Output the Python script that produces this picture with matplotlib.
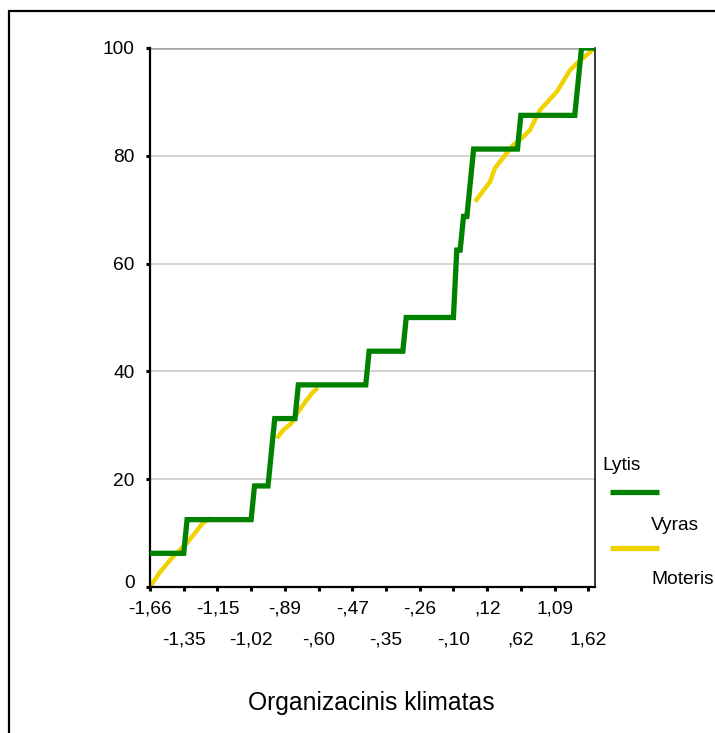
import numpy as np
import matplotlib
matplotlib.use("Agg")
import matplotlib.pyplot as plt
import matplotlib.transforms as mtransforms
from matplotlib.lines import Line2D
from matplotlib.patches import Rectangle

plt.rcParams['font.family'] = ['Liberation Sans', 'DejaVu Sans']

# ---- data ----
x_tick_labels = ['-1,66', '-1,35', '-1,15', '-1,02', '-,89', '-,60', '-,47',
                 '-,35', '-,26', '-,10', ',12', ',62', '1,09', '1,62']
n_categories = 133          # category index 0 .. 132
tick_every = 10

# cumulative percent, men (Vyras): category index / cumulative %
male_idx = [0, 10, 11, 30, 31, 35, 37, 43, 44, 64, 65, 75, 76, 90, 91, 92, 93,
            94, 96, 109, 110, 126, 128, 132]
male_cum = [6.25, 6.25, 12.5, 12.5, 18.75, 18.75, 31.25, 31.25, 37.5, 37.5,
            43.75, 43.75, 50, 50, 62.5, 62.5, 68.75, 68.75, 81.25, 81.25,
            87.5, 87.5, 100, 100]

# cumulative percent, women (Moteris) - visible parts only
nan = np.nan
female_idx = [0, 3.0, 6.8, 11, 12.8, 15.7, 18, nan, 37.6, 39.5, 42.0, 43.9,
              46.5, 48.4, 49.8, nan, 96.4, 100.9, 102.3, 104.7, 107.7, 110.4,
              112.7, 115.7, 120.7, 124.6, 126.7, 132]
female_cum = [0, 2.8, 5.6, 8.2, 9.6, 11.9, 12.8, nan, 27.6, 29.1, 30.4, 32.5,
              34.7, 36.2, 36.9, nan, 71.5, 75.2, 77.7, 79.6, 82, 83.3, 84.8,
              88.5, 91.9, 95.9, 97.2, 100]

y_ticks = [0, 20, 40, 60, 80, 100]
legend_title = 'Lytis'
series_names = ['Vyras', 'Moteris']
x_label = 'Organizacinis klimatas'

GREEN = '#008200'
YELLOW = '#f0d200'
FS = 13.8

# ---- figure ----
W, H = 715, 733
fig = plt.figure(figsize=(W / 100, H / 100), dpi=100)
ax = fig.add_axes([150 / W, 1 - 587 / H, 445 / W, (587 - 48) / H])

ax.set_xlim(0, n_categories - 1)
ax.set_ylim(0, 100)

for yv in y_ticks[1:-1]:
    ax.axhline(yv, color='#cbcbcb', lw=1.2, zorder=0)
ax.axhline(100, color='#a5a5a5', lw=1.8, zorder=0)

ax.plot(female_idx, female_cum, color=YELLOW, lw=3.2, zorder=2,
        solid_capstyle='butt', solid_joinstyle='round')
ax.plot(male_idx, male_cum, color=GREEN, lw=3.8, zorder=3,
        solid_capstyle='butt', solid_joinstyle='miter')

ax.spines['top'].set_visible(False)
ax.spines['left'].set_linewidth(1.6)
ax.spines['bottom'].set_linewidth(1.6)
ax.spines['right'].set_linewidth(1.1)
for s in ['left', 'bottom', 'right']:
    ax.spines[s].set_color('black')

tick_pos = np.arange(len(x_tick_labels)) * tick_every
ax.set_xticks(tick_pos[0::2])
ax.set_xticklabels(x_tick_labels[0::2])
ax.set_xticks(tick_pos[1::2], minor=True)
ax.set_xticklabels(x_tick_labels[1::2], minor=True)
ax.tick_params(axis='x', which='major', length=3, width=2.2, pad=7,
               labelsize=FS, direction='out')
ax.tick_params(axis='x', which='minor', length=3, width=2.2, pad=29,
               labelsize=FS, direction='out')

ax.set_yticks(y_ticks)
ax.set_yticklabels([str(v) for v in y_ticks])
ax.tick_params(axis='y', length=3, width=2.2, pad=8, labelsize=FS,
               direction='out')
# the "0" label sits slightly above the axis line
lab0 = ax.get_yticklabels()[0]
lab0.set_transform(lab0.get_transform() +
                   mtransforms.ScaledTranslation(0, 6 / 100, fig.dpi_scale_trans))

fig.text(371 / W, 1 - 703 / H, x_label, ha='center', va='center', fontsize=17.8)

# legend
fig.text(602 / W, 1 - 466 / H, legend_title, ha='left', va='center', fontsize=FS)
for i, (name, col) in enumerate(zip(series_names, [GREEN, YELLOW])):
    ly = [491.5, 547.5][i]
    ty = [526, 580][i]
    fig.add_artist(Line2D([610 / W, 659 / W], [1 - ly / H, 1 - ly / H],
                          color=col, lw=3.8, solid_capstyle='butt'))
    fig.text(651 / W, 1 - ty / H, name, ha='left', va='center', fontsize=FS)

# outer frame
fig.add_artist(Rectangle((9 / W, -0.05), 1.2, 1 - 11 / H + 0.05,
                         transform=fig.transFigure, fill=False,
                         edgecolor='black', lw=1.6))

fig.savefig('out.png', dpi=100)
